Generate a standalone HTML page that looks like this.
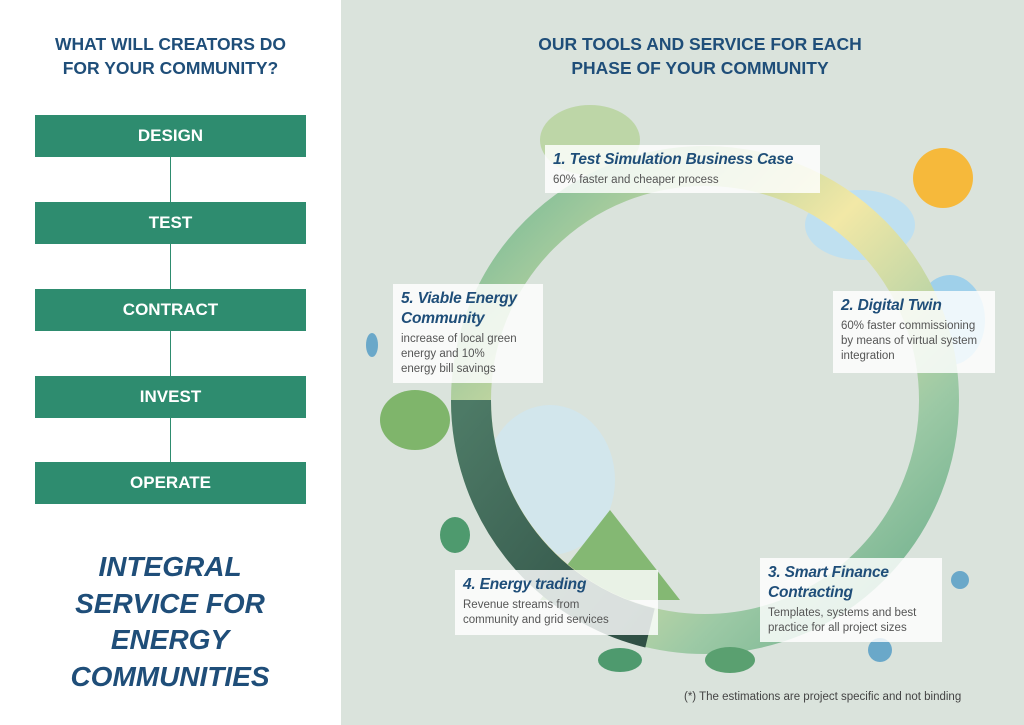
<!DOCTYPE html>
<html><head><meta charset="utf-8"><style>
body{margin:0;width:1024px;height:725px;overflow:hidden;font-family:"Liberation Sans",sans-serif;position:relative;background:#fff}
.left{position:absolute;left:0;top:0;width:341px;height:725px;background:#fff}
.right{position:absolute;left:341px;top:0;width:683px;height:725px;background:#dae3dc}
h1{position:absolute;margin:0;color:#1f4e79;font-weight:bold;text-align:center;font-size:17.5px;line-height:24px}
.box{position:absolute;left:35px;width:271px;height:42px;background:#2e8c6f;color:#fff;font-weight:bold;font-size:17px;text-align:center;line-height:42px}
.vl{position:absolute;left:170px;width:1px;background:#2e8c6f}
.big{position:absolute;left:20px;width:300px;top:549px;text-align:center;color:#1f4e79;font-style:italic;font-weight:bold;font-size:28px;line-height:36.5px}
.tb{position:absolute;background:rgba(255,255,255,0.82);color:#555;font-size:11.5px;line-height:15px;padding:5px 8px;box-sizing:border-box}
.tb b{display:block;color:#1f4e79;font-style:italic;font-size:15.5px;line-height:20px;margin-bottom:3px;letter-spacing:-0.2px}
</style></head><body>
<div class="left">
<h1 style="left:0;width:341px;top:32px">WHAT WILL CREATORS DO<br>FOR YOUR COMMUNITY?</h1>
<div class="vl" style="top:157px;height:45px"></div>
<div class="vl" style="top:244px;height:45px"></div>
<div class="vl" style="top:331px;height:45px"></div>
<div class="vl" style="top:418px;height:44px"></div>
<div class="box" style="top:115px">DESIGN</div>
<div class="box" style="top:202px">TEST</div>
<div class="box" style="top:289px">CONTRACT</div>
<div class="box" style="top:376px">INVEST</div>
<div class="box" style="top:462px">OPERATE</div>
<div class="big">INTEGRAL<br>SERVICE FOR<br>ENERGY<br>COMMUNITIES</div>
</div>
<div class="right"></div>
<h1 style="left:440px;width:520px;top:32px">OUR TOOLS AND SERVICE FOR EACH<br>PHASE OF YOUR COMMUNITY</h1>
<svg style="position:absolute;left:0;top:0" width="1024" height="725">
<defs>
<linearGradient id="g" x1="0" y1="0" x2="1" y2="1">
<stop offset="0" stop-color="#6bb596"/><stop offset="0.45" stop-color="#f2e8a6"/><stop offset="0.75" stop-color="#9cc9a5"/><stop offset="1" stop-color="#66aa88"/></linearGradient>
<linearGradient id="d" x1="0" y1="0" x2="1" y2="1"><stop offset="0" stop-color="#4d7a66"/><stop offset="1" stop-color="#2f4f44"/></linearGradient>
</defs>
<ellipse cx="590" cy="140" rx="50" ry="35" fill="#b5d29a" opacity="0.8"/>
<ellipse cx="415" cy="420" rx="35" ry="30" fill="#7fb56b"/>
<ellipse cx="860" cy="225" rx="55" ry="35" fill="#bfe0f0"/>
<ellipse cx="950" cy="320" rx="35" ry="45" fill="#9fd0ea"/>
<ellipse cx="550" cy="480" rx="65" ry="75" fill="#cfe6f0" opacity="0.8"/>
<path d="M540 600 L610 510 L680 600Z" fill="#84b873"/>
<circle cx="943" cy="178" r="30" fill="#f6b93b"/>
<circle cx="705" cy="400" r="234" fill="none" stroke="url(#g)" stroke-width="40"/>
<path d="M471 400 A234 234 0 0 0 650 628" fill="none" stroke="url(#d)" stroke-width="40"/>
<circle cx="880" cy="650" r="12" fill="#6aa8c9"/>
<circle cx="960" cy="580" r="9" fill="#6aa8c9"/>
<ellipse cx="372" cy="345" rx="6" ry="12" fill="#6aa8c9"/>
<ellipse cx="620" cy="660" rx="22" ry="12" fill="#4e9a6e"/>
<ellipse cx="730" cy="660" rx="25" ry="13" fill="#5aa070"/>
<ellipse cx="455" cy="535" rx="15" ry="18" fill="#4e9a6e"/>
</svg>
<div class="tb" style="left:545px;top:145px;width:275px;height:48px"><b>1. Test Simulation Business Case</b>60% faster and cheaper process</div>
<div class="tb" style="left:833px;top:291px;width:162px;height:82px"><b>2. Digital Twin</b>60% faster commissioning by means of virtual system integration</div>
<div class="tb" style="left:393px;top:284px;width:150px;height:99px;padding-right:14px"><b>5. Viable Energy Community</b>increase of local green energy and 10%<br>energy bill savings</div>
<div class="tb" style="left:760px;top:558px;width:182px;height:84px"><b>3. Smart Finance Contracting</b>Templates, systems and best practice for all project sizes</div>
<div class="tb" style="left:455px;top:570px;width:203px;height:65px"><b>4. Energy trading</b>Revenue streams from<br>community and grid services</div>
<div style="position:absolute;left:684px;top:691px;font-size:11.5px;color:#444">(*) The estimations are project specific and not binding</div>
</body></html>
